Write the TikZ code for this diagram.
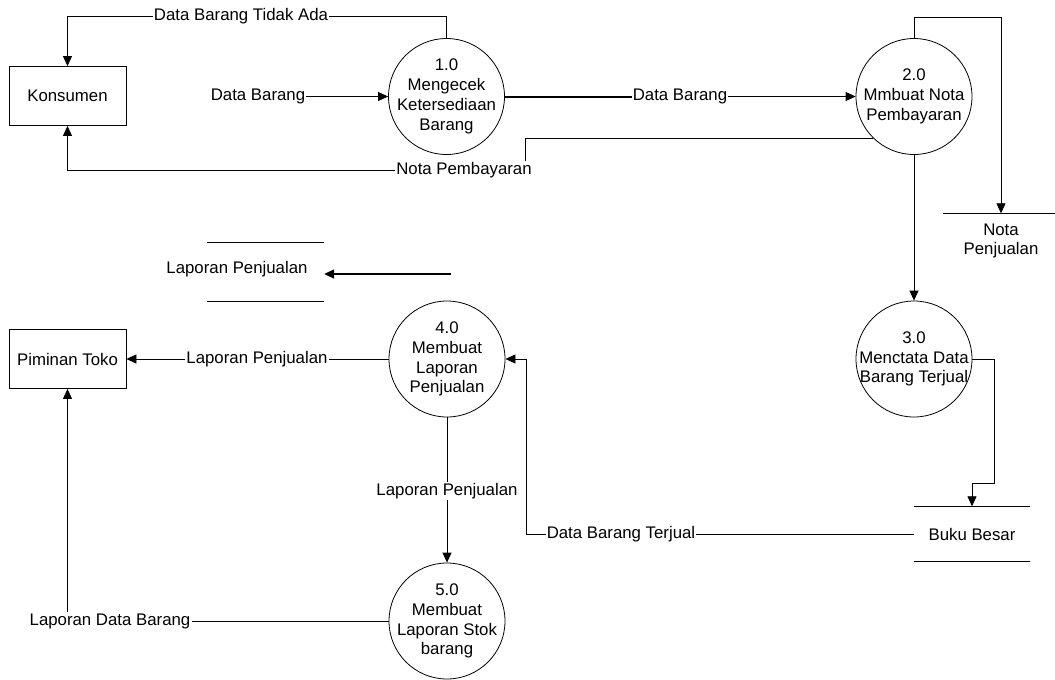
\documentclass[tikz,border=0pt]{standalone}
\usepackage{fontspec}
\setmainfont{Liberation Sans}
\usetikzlibrary{arrows.meta,calc}
\tikzset{
  txtfont/.style={font=\fontsize{16.8}{19.8}\selectfont},
  ent/.style={draw, line width=0.8pt, minimum width=117pt, minimum height=59pt,
              inner sep=2pt, txtfont},
  proc/.style={draw, circle, line width=0.8pt, minimum size=116pt, inner sep=-6pt,
               align=center, txtfont},
  store/.style={minimum width=116pt, minimum height=55pt, inner sep=0pt,
                align=center, txtfont},
  lbl/.style={inner sep=1pt, txtfont},
  flow/.style={line width=0.8pt},
  sig/.style={flow, -{Triangle[length=10pt,width=9pt]}},
  thk/.style={line width=2pt},
}

\begin{document}
\begin{tikzpicture}[x=1pt,y=-1pt]
    \path[fill=white,use as bounding box] (0,0) rectangle (1055,680);
    \node[ent] (kons) at (67.5,96) {Konsumen};
    \node[ent] (pim) at (67.5,359) {Piminan Toko};
    \node[proc] (p1) at (446.5,96.5) {1.0\\Mengecek\\Ketersediaan\\Barang};
    \node[proc] (p2) at (914,96.5) {2.0\\Mmbuat Nota\\Pembayaran};
    \node[proc] (p3) at (914,359) {3.0\\Menctata Data\\Barang Terjual};
    \node[proc] (p4) at (447,359) {4.0\\Membuat\\Laporan\\Penjualan};
    \node[proc] (p5) at (447,621) {5.0\\Membuat\\Laporan Stok\\barang};
    \node[store] (sNota) at (1001,241) {Nota\\Penjualan};
    \node[store] (sBuku) at (972,534) {Buku Besar};
    \node[store, minimum width=117pt, minimum height=58pt,
          label={[lbl,xshift=-28.5pt,yshift=3pt]center:Laporan Penjualan}] (sLap) at (265.5,272) {};
    \coordinate (lapEnd) at (451,274);
    \node[lbl] (lTA) at (241,16) {Data Barang Tidak Ada};
    \node[lbl] (dbIn) at (258,96.5) {Data Barang};
    \node[lbl] (dbOut) at (680,96.5) {Data Barang};
    \node[lbl] (lNP) at (464,170) {Nota Pembayaran};
    \node[lbl] (lDBT) at (621,534) {Data Barang Terjual};
    \node[lbl] (lLP) at (257,359) {Laporan Penjualan};
    \node[lbl] (lLP2) at (447,491) {Laporan Penjualan};
    \node[lbl] (lLDB) at (110,621) {Laporan Data Barang};
    \draw[flow] (sNota.north west) -- (sNota.north east);
    \draw[flow] (sBuku.north west) -- (sBuku.north east) (sBuku.south west) -- (sBuku.south east);
    \draw[flow] (sLap.north west) -- (sLap.north east) (sLap.south west) -- (sLap.south east);
    \draw[flow] (p1.north) |- (lTA.east);
    \draw[sig] (lTA.west) -| (kons.north);
    \draw[sig] (dbIn.east) -- (p1.west);
    \draw[thk] (p1.east) -- (dbOut.west);
    \draw[sig] (dbOut.east) -- (p2.west);
    \draw[flow] (p2.226) -| ($(lNP.north east)+(-8,0)$);
    \draw[sig] (lNP.west) -| (kons.south);
    \draw[sig] (p2.north) -- ++(0,-21) -| (sNota.north);
    \draw[sig] (p2.south) -- (p3.north);
    \draw[sig] (p3.east) -| ($(sBuku.north)+(22,-23)$) -| (sBuku.north);
    \draw[flow] (sBuku.west) -- (lDBT.east);
    \draw[sig] (lDBT.west) -| ($(p4.east)+(21,0)$) -- (p4.east);
    \draw[flow] (p4.west) -- (lLP.east);
    \draw[sig] (lLP.west) -- (pim.east);
    \draw[flow] (p4.south) -- (lLP2.north);
    \draw[sig] (lLP2.south) -- (p5.north);
    \draw[flow] (p5.west) -- (lLDB.east);
    \draw[sig] (lLDB.north -| pim.south) -- (pim.south);
    \draw[thk,-{Triangle[length=10pt,width=9pt]}] (lapEnd) -- (sLap.east |- lapEnd);
  \end{tikzpicture}
\end{document}
